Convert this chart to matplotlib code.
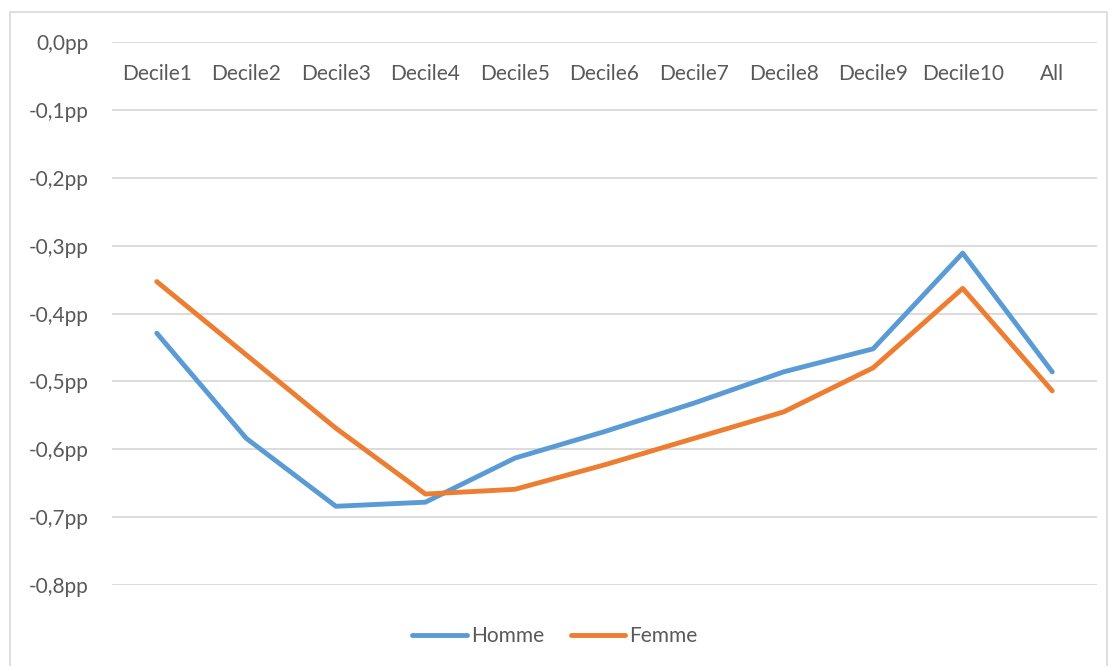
import matplotlib.pyplot as plt
from matplotlib.patches import Rectangle

# Données
categories = ['Decile1', 'Decile2', 'Decile3', 'Decile4', 'Decile5', 'Decile6',
              'Decile7', 'Decile8', 'Decile9', 'Decile10', 'All']
homme = [-0.429, -0.584, -0.684, -0.678, -0.613, -0.574, -0.532, -0.486, -0.452, -0.311, -0.486]
femme = [-0.353, -0.461, -0.569, -0.666, -0.659, -0.623, -0.584, -0.545, -0.480, -0.363, -0.514]
yticks = [0.0, -0.1, -0.2, -0.3, -0.4, -0.5, -0.6, -0.7, -0.8]

plt.rcParams['font.family'] = ['Lato', 'DejaVu Sans']
txt_color = '#595959'

fig = plt.figure(figsize=(11.1, 6.66), dpi=100)
W, H = 1110, 666
ax = fig.add_axes([112 / W, 1 - 585 / H, (1097 - 112) / W, (585 - 42) / H])

x = list(range(len(categories)))
ax.plot(x, homme, color='#5B9BD5', lw=3.5, solid_capstyle='round', solid_joinstyle='round', label='Homme')
ax.plot(x, femme, color='#ED7D31', lw=3.5, solid_capstyle='round', solid_joinstyle='round', label='Femme')

ax.set_xlim(-0.5, len(categories) - 0.5)
ax.set_ylim(-0.8, 0.0)
ax.set_yticks(yticks)
ax.set_yticklabels([('%.1fpp' % v).replace('.', ',') if v != 0 else '0,0pp' for v in yticks])
ax.yaxis.grid(True, color='#D9D9D9', lw=1.3)
ax.set_axisbelow(True)
for s in ax.spines.values():
    s.set_visible(False)
ax.tick_params(axis='y', length=0, pad=17, labelsize=15, labelcolor=txt_color)

# étiquettes des catégories juste sous la ligne 0
ax.set_xticks(x)
ax.set_xticklabels(categories)
ax.xaxis.set_ticks_position('top')
ax.tick_params(axis='x', length=0, labelsize=15, labelcolor=txt_color, labeltop=True, labelbottom=False,
               direction='in', pad=-30)

leg = fig.legend(loc='center', bbox_to_anchor=(0.5, 1 - 636 / H), ncol=2, frameon=False,
                 fontsize=15, handlelength=2.6, handletextpad=0.2, columnspacing=1.3)
for t in leg.get_texts():
    t.set_color(txt_color)

# cadre du graphique
fig.patches.append(Rectangle((10 / W, -0.05), (1107 - 10) / W, 1.05 - 12 / H, transform=fig.transFigure,
                             fill=False, edgecolor='#D9D9D9', lw=1.2))

fig.savefig('out.png', dpi=100, facecolor='white')
